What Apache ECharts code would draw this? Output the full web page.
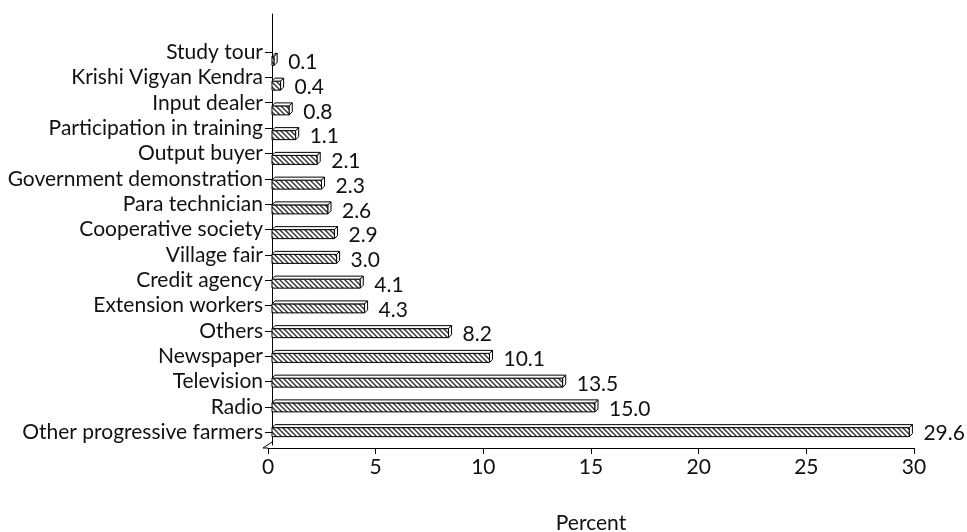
<!DOCTYPE html>
<html>
<head>
<meta charset="utf-8">
<style>
  html, body { margin: 0; padding: 0; background: #fff; }
  #chart { width: 967px; height: 532px; }
</style>
<script src="https://cdn.jsdelivr.net/npm/echarts@6/dist/echarts.min.js"></script>
</head>
<body>
<div id="chart"></div>
<script>
// Sources of information (bottom to top on the category axis)
const categories = [
  'Other progressive farmers', 'Radio', 'Television', 'Newspaper', 'Others',
  'Extension workers', 'Credit agency', 'Village fair', 'Cooperative society',
  'Para technician', 'Government demonstration', 'Output buyer',
  'Participation in training', 'Input dealer', 'Krishi Vigyan Kendra', 'Study tour'
];
const percents = [29.6, 15.0, 13.5, 10.1, 8.2, 4.3, 4.1, 3.0, 2.9, 2.6, 2.3, 2.1, 1.1, 0.8, 0.4, 0.1];
const xTicks = { min: 0, max: 30, interval: 5 };

const FONT = 'Lato';
const FONT_SIZE = 21;

// diagonal hatch tile for the bar faces
function hatchTile() {
  const s = 5;
  const c = document.createElement('canvas');
  c.width = s; c.height = s;
  const g = c.getContext('2d');
  g.fillStyle = '#fff';
  g.fillRect(0, 0, s, s);
  g.strokeStyle = '#333';
  g.lineWidth = 1.4;
  g.beginPath();
  g.moveTo(-1, -1); g.lineTo(s + 1, s + 1);
  g.moveTo(-1, s - 1); g.lineTo(1, s + 1);
  g.moveTo(s - 1, -1); g.lineTo(s + 1, 1);
  g.stroke();
  return c;
}
const hatch = hatchTile();

const chart = echarts.init(document.getElementById('chart'), null, { renderer: 'canvas' });

// bar drawn as a hatched front face with a white top face and end cap
const depth = 3;
function renderBar(params, api) {
  const v = api.value(0);
  const cat = api.value(1);
  const p0 = api.coord([0, cat]);
  const p1 = api.coord([v, cat]);
  const x0 = p0[0], x1 = p1[0];
  const top = p0[1] - 3, bottom = p0[1] + 6;
  const d = depth;
  const lineStyle = { stroke: '#000', lineWidth: 1 };
  return {
    type: 'group',
    children: [
      {
        type: 'rect',
        shape: { x: x0, y: top, width: x1 - x0, height: bottom - top },
        style: Object.assign({ fill: { image: hatch, repeat: 'repeat' } }, lineStyle)
      },
      {
        type: 'polygon',
        shape: { points: [[x0, top], [x1, top], [x1 + d, top - d], [x0 + d, top - d]] },
        style: Object.assign({ fill: '#fff' }, lineStyle)
      },
      {
        type: 'polygon',
        shape: { points: [[x1, top], [x1 + d, top - d], [x1 + d, bottom - d], [x1, bottom]] },
        style: Object.assign({ fill: '#fff' }, lineStyle)
      },
      {
        type: 'text',
        style: {
          text: v.toFixed(1),
          x: x1 + d + 11,
          y: p0[1] + 3,
          verticalAlign: 'middle',
          align: 'left',
          fontFamily: FONT,
          fontSize: FONT_SIZE,
          fill: '#111'
        }
      }
    ]
  };
}

const gridBase = { containLabel: false, outerBoundsMode: 'none' };

const option = {
  backgroundColor: '#fff',
  animation: false,
  grid: [
    // bars (back wall plane)
    Object.assign({ left: 272, right: 49, top: 47, bottom: 89 }, gridBase),
    // category labels and vertical wall line
    Object.assign({ left: 272, right: 49, top: 14, bottom: 87 }, gridBase),
    // value axis on the front floor edge
    Object.assign({ left: 268, right: 53, top: 14, bottom: 84 }, gridBase)
  ],
  xAxis: [
    { gridIndex: 0, type: 'value', min: xTicks.min, max: xTicks.max, show: false },
    { gridIndex: 1, type: 'value', min: xTicks.min, max: xTicks.max, show: false },
    {
      gridIndex: 2, type: 'value', min: xTicks.min, max: xTicks.max, interval: xTicks.interval,
      name: 'Percent', nameLocation: 'middle', nameGap: 65,
      nameTextStyle: { fontFamily: FONT, fontSize: FONT_SIZE, color: '#111' },
      axisLine: { show: true, lineStyle: { color: '#000', width: 1 } },
      axisTick: { show: true, inside: false, length: 6, lineStyle: { color: '#000' } },
      axisLabel: { fontFamily: FONT, fontSize: FONT_SIZE, color: '#111', margin: 9 },
      splitLine: { show: false }
    }
  ],
  yAxis: [
    { gridIndex: 0, type: 'category', data: categories, show: false },
    {
      gridIndex: 1, type: 'category', data: categories.concat(['']),
      boundaryGap: true,
      axisLine: { show: true, lineStyle: { color: '#000', width: 1 } },
      axisTick: {
        show: true, alignWithLabel: true, length: 7,
        interval: (idx) => idx < categories.length,
        lineStyle: { color: '#000' }
      },
      axisLabel: { fontFamily: FONT, fontSize: FONT_SIZE, color: '#111', margin: 9, interval: 0 }
    },
    { gridIndex: 2, type: 'value', min: 0, max: 1, show: false }
  ],
  series: [
    {
      type: 'custom',
      xAxisIndex: 0,
      yAxisIndex: 0,
      renderItem: renderBar,
      data: percents.map((v, i) => [v, i]),
      encode: { x: 0, y: 1 },
      clip: false
    }
  ]
};

chart.setOption(option);

// floor edge joining the front axis to the back wall
const front = chart.convertToPixel({ gridIndex: 2 }, [0, 0]);
const wall = chart.convertToPixel({ gridIndex: 1 }, [0, 0]);
chart.setOption({
  graphic: [{
    type: 'polyline',
    shape: { points: [[wall[0], front[1] - 6], [front[0] - 5, front[1]], [front[0], front[1]]] },
    style: { stroke: '#000', lineWidth: 1, fill: null },
    silent: true
  }]
});
</script>
</body>
</html>
